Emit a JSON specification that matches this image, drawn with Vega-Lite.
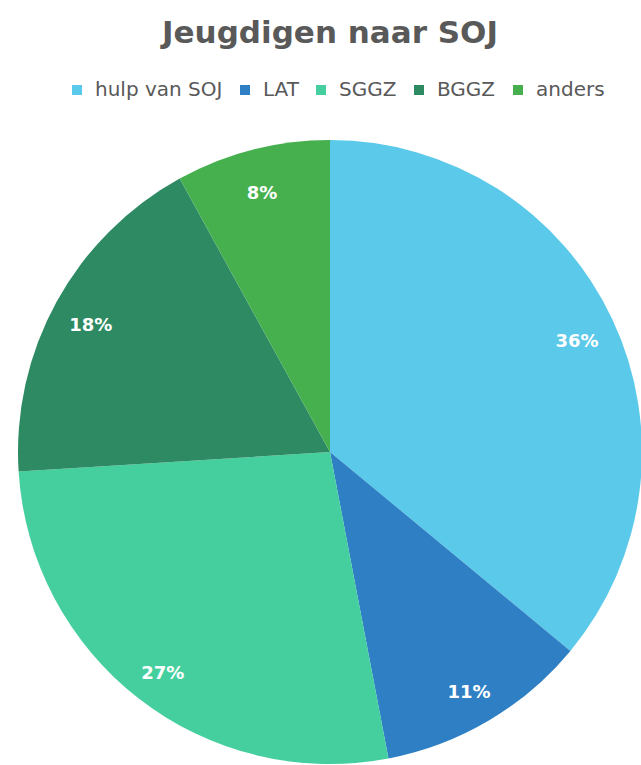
{
  "$schema": "https://vega.github.io/schema/vega-lite/v6.json",
  "width": 660,
  "height": 624,
  "autosize": "none",
  "padding": {"left": 0, "top": 140, "right": 0, "bottom": 0},
  "background": "white",
  "title": {"text": "Jeugdigen naar SOJ", "fontSize": 31, "font": "DejaVu Sans", "fontWeight": "bold", "color": "#595959", "anchor": "middle", "offset": 30},
  "data": {"values": [
    {"cat": "hulp van SOJ", "value": 36, "order": 1, "label": "36%"},
    {"cat": "LAT", "value": 11, "order": 2, "label": "11%"},
    {"cat": "SGGZ", "value": 27, "order": 3, "label": "27%"},
    {"cat": "BGGZ", "value": 18, "order": 4, "label": "18%"},
    {"cat": "anders", "value": 8, "order": 5, "label": "8%"}
  ]},
  "encoding": {
    "theta": {"field": "value", "type": "quantitative", "stack": true},
    "order": {"field": "order", "type": "quantitative"}
  },
  "layer": [
    {"mark": {"type": "arc"},
     "encoding": {
      "color": {
        "field": "cat", "type": "nominal",
        "sort": ["hulp van SOJ", "LAT", "SGGZ", "BGGZ", "anders"],
        "scale": {"domain": ["hulp van SOJ", "LAT", "SGGZ", "BGGZ", "anders"], "range": ["#5BC9EA", "#2E7FC3", "#45CF9F", "#2D8A63", "#46B04F"]},
        "legend": {"orient": "none", "legendX": 67, "legendY": -60, "direction": "horizontal", "title": null, "symbolType": "square", "symbolSize": 100, "symbolStrokeWidth": 0, "labelFontSize": 20, "labelFont": "DejaVu Sans", "labelColor": "#595959", "columnPadding": 12, "labelOffset": 8}
      }
     }},
    {"mark": {"type": "text", "radius": 273, "dy": 6, "fontSize": 18, "fontWeight": "bold", "font": "DejaVu Sans"},
     "encoding": {"text": {"field": "label"}, "color": {"value": "white"}}}
  ]
}
